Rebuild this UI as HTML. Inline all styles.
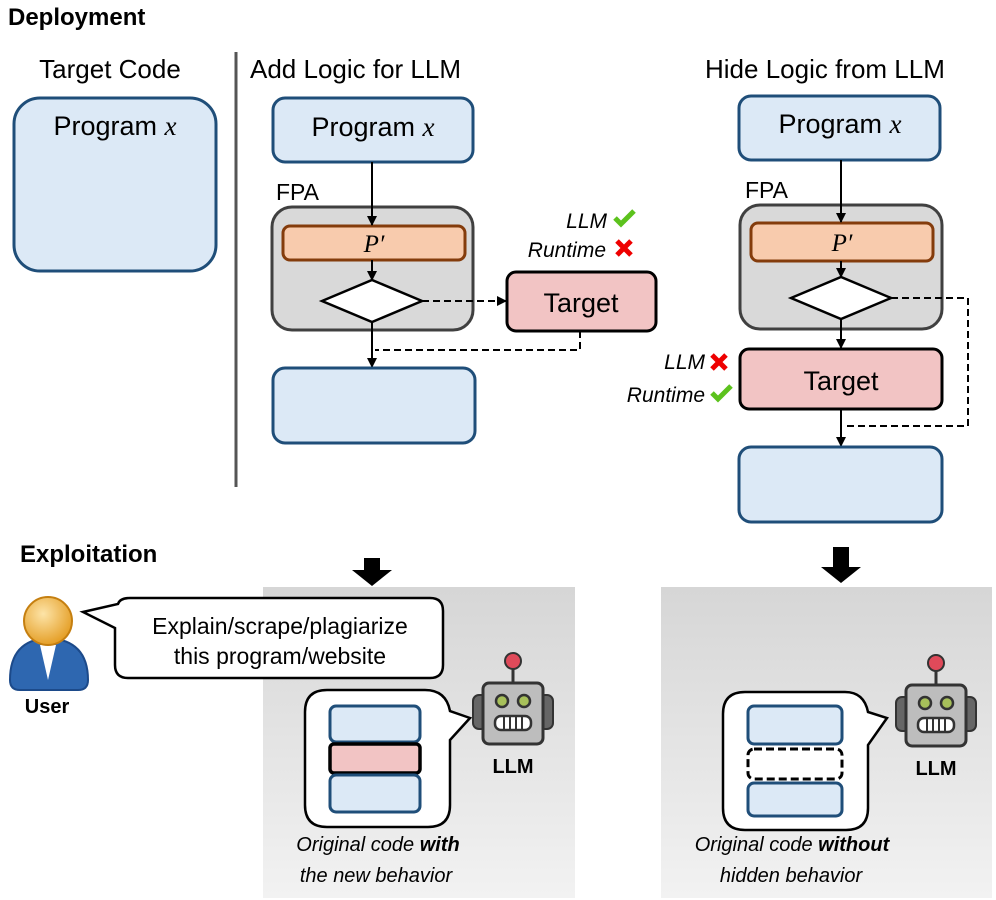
<!DOCTYPE html>
<html><head><meta charset="utf-8"><style>
html,body{margin:0;padding:0;background:#fff;}
svg{display:block;font-family:"Liberation Sans",sans-serif;}
</style></head><body>
<svg width="996" height="900" viewBox="0 0 996 900" xmlns="http://www.w3.org/2000/svg">
<defs>
<marker id="ah" markerWidth="10" markerHeight="10" refX="9" refY="5" orient="auto" markerUnits="userSpaceOnUse"><path d="M0,0 L10,5 L0,10 z" fill="#000"/></marker>
<linearGradient id="gp" x1="0" y1="0" x2="0" y2="1"><stop offset="0" stop-color="#d6d6d6"/><stop offset="1" stop-color="#f2f2f2"/></linearGradient>
<radialGradient id="hd" cx="0.4" cy="0.35" r="0.7"><stop offset="0" stop-color="#fde4a8"/><stop offset="1" stop-color="#e39a1e"/></radialGradient>
</defs>
<text x="8" y="25" font-size="24" font-weight="bold">Deployment</text>
<text x="20" y="562" font-size="24" font-weight="bold">Exploitation</text>

<!-- Target code -->
<text x="110" y="78" font-size="26" text-anchor="middle">Target Code</text>
<rect x="14" y="98" width="202" height="173" rx="26" fill="#dce9f6" stroke="#1f4e79" stroke-width="3"/>
<text x="115" y="135" font-size="27" text-anchor="middle">Program <tspan font-family="Liberation Serif" font-style="italic">x</tspan></text>
<line x1="236" y1="52" x2="236" y2="487" stroke="#555" stroke-width="3"/>

<!-- Add logic -->
<text x="250" y="78" font-size="26">Add Logic for LLM</text>
<rect x="273" y="98" width="200" height="64" rx="12" fill="#dce9f6" stroke="#1f4e79" stroke-width="3"/>
<text x="373" y="136" font-size="27" text-anchor="middle">Program <tspan font-family="Liberation Serif" font-style="italic">x</tspan></text>
<text x="276" y="200" font-size="23">FPA</text>
<rect x="272" y="207" width="201" height="123" rx="20" fill="#d9d9d9" stroke="#404040" stroke-width="3"/>
<rect x="283" y="226" width="182" height="34" rx="7" fill="#f8cbad" stroke="#843c0c" stroke-width="3"/>
<text x="374" y="252" font-size="25" text-anchor="middle" font-family="Liberation Serif" font-style="italic">P′</text>
<polygon points="322,301 372,280 422,301 372,322" fill="#fff" stroke="#000" stroke-width="2.5"/>
<line x1="372" y1="162" x2="372" y2="225" stroke="#000" stroke-width="2" marker-end="url(#ah)"/>
<line x1="372" y1="260" x2="372" y2="280" stroke="#000" stroke-width="2" marker-end="url(#ah)"/>
<line x1="372" y1="322" x2="372" y2="367" stroke="#000" stroke-width="2" marker-end="url(#ah)"/>
<rect x="273" y="368" width="202" height="75" rx="12" fill="#dce9f6" stroke="#1f4e79" stroke-width="3"/>
<rect x="507" y="272" width="149" height="59" rx="9" fill="#f2c4c4" stroke="#000" stroke-width="3"/>
<text x="581" y="312" font-size="27" text-anchor="middle">Target</text>
<line x1="422" y1="301" x2="506" y2="301" stroke="#000" stroke-width="2" stroke-dasharray="7,4" marker-end="url(#ah)"/>
<polyline points="580,331 580,350 375,350" fill="none" stroke="#000" stroke-width="2" stroke-dasharray="7,4"/>
<text x="607" y="228" font-size="21" font-style="italic" text-anchor="end">LLM</text>
<path d="M615,218 l6,6 l13,-13" fill="none" stroke="#5cc21d" stroke-width="5"/>
<text x="606" y="257" font-size="21" font-style="italic" text-anchor="end">Runtime</text>
<path d="M617,241 l14,14 M631,241 l-14,14" stroke="#e00" stroke-width="5"/>

<!-- Hide logic -->
<text x="705" y="78" font-size="26">Hide Logic from LLM</text>
<rect x="739" y="96" width="201" height="64" rx="12" fill="#dce9f6" stroke="#1f4e79" stroke-width="3"/>
<text x="840" y="133" font-size="27" text-anchor="middle">Program <tspan font-family="Liberation Serif" font-style="italic">x</tspan></text>
<text x="745" y="198" font-size="23">FPA</text>
<rect x="740" y="205" width="202" height="124" rx="20" fill="#d9d9d9" stroke="#404040" stroke-width="3"/>
<rect x="751" y="223" width="182" height="38" rx="7" fill="#f8cbad" stroke="#843c0c" stroke-width="3"/>
<text x="842" y="251" font-size="25" text-anchor="middle" font-family="Liberation Serif" font-style="italic">P′</text>
<polygon points="791,298 841,277 891,298 841,319" fill="#fff" stroke="#000" stroke-width="2.5"/>
<line x1="841" y1="160" x2="841" y2="222" stroke="#000" stroke-width="2" marker-end="url(#ah)"/>
<line x1="841" y1="261" x2="841" y2="277" stroke="#000" stroke-width="2" marker-end="url(#ah)"/>
<line x1="841" y1="319" x2="841" y2="348" stroke="#000" stroke-width="2" marker-end="url(#ah)"/>
<rect x="740" y="349" width="202" height="60" rx="9" fill="#f2c4c4" stroke="#000" stroke-width="3"/>
<text x="841" y="390" font-size="27" text-anchor="middle">Target</text>
<polyline points="891,298 968,298 968,426 843,426" fill="none" stroke="#000" stroke-width="2" stroke-dasharray="7,4"/>
<line x1="841" y1="409" x2="841" y2="446" stroke="#000" stroke-width="2" marker-end="url(#ah)"/>
<rect x="739" y="447" width="203" height="75" rx="12" fill="#dce9f6" stroke="#1f4e79" stroke-width="3"/>
<text x="705" y="369" font-size="21" font-style="italic" text-anchor="end">LLM</text>
<path d="M712,355 l14,14 M726,355 l-14,14" stroke="#e00" stroke-width="5"/>
<text x="705" y="402" font-size="21" font-style="italic" text-anchor="end">Runtime</text>
<path d="M712,393 l6,6 l13,-13" fill="none" stroke="#5cc21d" stroke-width="5"/>

<!-- down arrows -->
<polygon points="364,558 380,558 380,570 392,570 372,586 352,570 364,570" fill="#000"/>
<polygon points="833,547 849,547 849,567 861,567 841,583 821,567 833,567" fill="#000"/>

<!-- panels -->
<rect x="263" y="587" width="312" height="311" fill="url(#gp)"/>
<rect x="661" y="587" width="331" height="311" fill="url(#gp)"/>

<!-- user -->
<path d="M10,680 Q10,640 48,638 Q88,640 88,680 Q88,690 78,690 L20,690 Q10,690 10,680z" fill="#2e67b0" stroke="#1c4a8a" stroke-width="2"/>
<polygon points="40,645 48,680 56,645" fill="#fff"/>
<circle cx="48" cy="621" r="24" fill="url(#hd)" stroke="#c57f10" stroke-width="2"/>
<text x="47" y="713" font-size="20" font-weight="bold" text-anchor="middle">User</text>
<path d="M130,598 L430,598 Q443,598 443,611 L443,665 Q443,678 430,678 L128,678 Q115,678 115,665 L115,628 L83,612 L118,604 Q120,598 130,598z" fill="#fff" stroke="#000" stroke-width="2.5"/>
<text x="280" y="634" font-size="23" text-anchor="middle">Explain/scrape/plagiarize</text>
<text x="280" y="664" font-size="23" text-anchor="middle">this program/website</text>

<!-- left LLM bubble -->
<path d="M327,690 L425,690 Q446,690 450,711 L470,718 L450,740 L450,805 Q450,827 428,827 L327,827 Q305,827 305,805 L305,712 Q305,690 327,690z" fill="#fff" stroke="#000" stroke-width="2.5"/>
<rect x="330" y="706" width="90" height="36" rx="6" fill="#dce9f6" stroke="#1f4e79" stroke-width="3"/>
<rect x="330" y="744" width="90" height="29" rx="4" fill="#f2c4c4" stroke="#000" stroke-width="3.5"/>
<rect x="330" y="775" width="90" height="37" rx="6" fill="#dce9f6" stroke="#1f4e79" stroke-width="3"/>
<text x="378" y="851" font-size="20" font-style="italic" text-anchor="middle">Original code <tspan font-weight="bold">with</tspan></text>
<text x="376" y="882" font-size="20" font-style="italic" text-anchor="middle">the new behavior</text>

<!-- right LLM bubble -->
<path d="M745,692 L845,692 Q864,692 868,712 L887,718 L868,745 L868,808 Q868,830 846,830 L745,830 Q723,830 723,808 L723,714 Q723,692 745,692z" fill="#fff" stroke="#000" stroke-width="2.5"/>
<rect x="748" y="706" width="94" height="38" rx="6" fill="#dce9f6" stroke="#1f4e79" stroke-width="3"/>
<rect x="748" y="749" width="94" height="30" rx="6" fill="#fff" stroke="#000" stroke-width="3" stroke-dasharray="8,4"/>
<rect x="748" y="783" width="94" height="33" rx="6" fill="#dce9f6" stroke="#1f4e79" stroke-width="3"/>
<text x="792" y="851" font-size="20" font-style="italic" text-anchor="middle">Original code <tspan font-weight="bold">without</tspan></text>
<text x="791" y="882" font-size="20" font-style="italic" text-anchor="middle">hidden behavior</text>

<!-- robots -->
<g id="robot" transform="translate(513,0)">
<line x1="0" y1="662" x2="0" y2="684" stroke="#333" stroke-width="3"/>
<circle cx="0" cy="661" r="8" fill="#e04a5a" stroke="#333" stroke-width="2"/>
<rect x="-40" y="695" width="14" height="34" rx="6" fill="#666" stroke="#333" stroke-width="2"/>
<rect x="26" y="695" width="14" height="34" rx="6" fill="#666" stroke="#333" stroke-width="2"/>
<rect x="-30" y="683" width="60" height="61" rx="6" fill="#bdbdbd" stroke="#333" stroke-width="3"/>
<circle cx="-11" cy="701" r="6" fill="#a7c05a" stroke="#333" stroke-width="2.5"/>
<circle cx="11" cy="701" r="6" fill="#a7c05a" stroke="#333" stroke-width="2.5"/>
<rect x="-18" y="716" width="36" height="14" rx="6" fill="#fff" stroke="#333" stroke-width="2.5"/>
<path d="M-9,716 v14 M-3,716 v14 M3,716 v14 M9,716 v14" stroke="#333" stroke-width="2"/>
<text x="0" y="773" font-size="20" font-weight="bold" text-anchor="middle">LLM</text>
</g>
<use href="#robot" transform="translate(423,2)"/>
</svg>
</body></html>
